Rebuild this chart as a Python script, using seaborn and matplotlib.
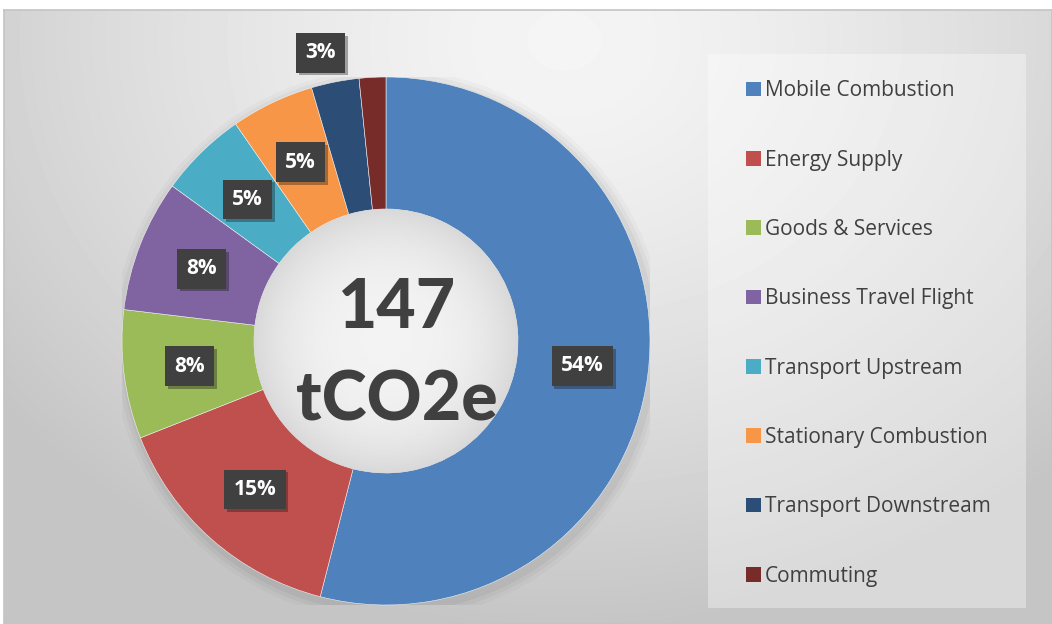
import numpy as np
import matplotlib.pyplot as plt
import seaborn as sns
from matplotlib.patches import Patch, Circle, Rectangle
from matplotlib import patheffects as pe

# data (tCO2e by source)
categories = ["Mobile Combustion", "Energy Supply", "Goods & Services",
              "Business Travel Flight", "Transport Upstream",
              "Stationary Combustion", "Transport Downstream", "Commuting"]
emissions = [79.5, 22.1, 11.6, 11.9, 7.9, 7.5, 4.3, 2.4]
colors = ["#4f81bd", "#c0504d", "#9bbb59", "#8064a2",
          "#4bacc6", "#f79646", "#2c4d75", "#772c2a"]
total_value = "147"
total_unit = "tCO2e"

sns.set_theme(style="white")
plt.rcParams['font.family'] = ['Open Sans', 'DejaVu Sans']

W, H = 1052, 624
fig = plt.figure(figsize=(W / 100, H / 100), dpi=100)
fig.patch.set_facecolor("white")

# gradient chart area
bg = fig.add_axes([4 / W, 0, 1 - 4 / W, (H - 10) / H])
yy, xx = np.mgrid[0:614, 0:1048]
d = np.hypot((xx - 560) * 0.9, (yy - 30) * 1.1) / 650
shade = 0.96 - 0.19 * np.clip(d, 0, 1) ** 1.4
bg.imshow(shade, cmap="gray", vmin=0, vmax=1, aspect="auto", extent=(0, 1, 0, 1))
bg.set_xticks([])
bg.set_yticks([])
for s in bg.spines.values():
    s.set_color("#c4c4c4")
    s.set_linewidth(1.2)

# legend panel
fig.add_artist(Rectangle((708 / W, (H - 608) / H), 318 / W, 554 / H,
                         transform=fig.transFigure, facecolor="white",
                         alpha=0.35, edgecolor="none"))

# donut
ax = fig.add_axes([122 / W, (H - 605) / H, 528 / W, 528 / H])
ax.set_facecolor("none")

# soft shadow behind the ring
for r, a in [(1.045, 0.025), (1.03, 0.03), (1.015, 0.04)]:
    ax.add_patch(Circle((0.01, -0.015), r, facecolor="black", alpha=a, edgecolor="none"))

wedges, _ = ax.pie(emissions, colors=colors, startangle=90, counterclock=False,
                   radius=1, wedgeprops=dict(width=0.5, edgecolor="#f0f0f0", linewidth=0.4))

# hole with a light radial fill
hy, hx = np.mgrid[-1:1:200j, -1:1:200j]
hole = 0.95 - 0.10 * np.clip(np.hypot(hx, hy), 0, 1) ** 3
clip = Circle((0, 0), 0.5, transform=ax.transData)
im = ax.imshow(hole, cmap="gray", vmin=0, vmax=1, extent=(-0.5, 0.5, -0.5, 0.5), zorder=3)
im.set_clip_path(clip)

ax.set_xlim(-1, 1)
ax.set_ylim(-1, 1)
ax.set_aspect("equal")
ax.axis("off")

# percentage labels (the small navy one was dragged outside the ring)
vals = np.array(emissions)
shares = vals / vals.sum()
mids = 90 - 360 * (np.cumsum(shares) - shares / 2)
label_pos = {6: (1.12, 1.7)}
for i, (p, ang) in enumerate(zip(shares, mids)):
    if p < 0.02:
        continue
    r, shift = label_pos.get(i, (0.75, 0))
    a = np.radians(ang + shift)
    t = ax.text(r * np.cos(a), r * np.sin(a),
                f"{round(p * 100)}%", ha="center", va="center", color="white",
                fontsize=15, fontweight="bold", zorder=5,
                bbox=dict(boxstyle="square,pad=0.45", facecolor="#404040", edgecolor="none"))
    t.get_bbox_patch().set_path_effects([pe.SimplePatchShadow(offset=(2, -2), alpha=0.35), pe.Normal()])

center_font = dict(ha="center", va="baseline", fontsize=49, fontweight="black",
                   color="#404040", zorder=5, family=["Lato", "DejaVu Sans"])
ax.text(0.04, 0.05, total_value, **center_font)
ax.text(0.04, -0.30, total_unit, **center_font)

handles = [Patch(facecolor=c, edgecolor="none") for c in colors]
fig.legend(handles, categories, loc="upper left",
           bbox_to_anchor=(736 / W, (H - 70) / H), frameon=False,
           fontsize=15, labelcolor="#404040", handlelength=0.7, handleheight=0.7,
           handletextpad=0.2, labelspacing=2.32, borderpad=0)

fig.savefig("out.png", dpi=100)
